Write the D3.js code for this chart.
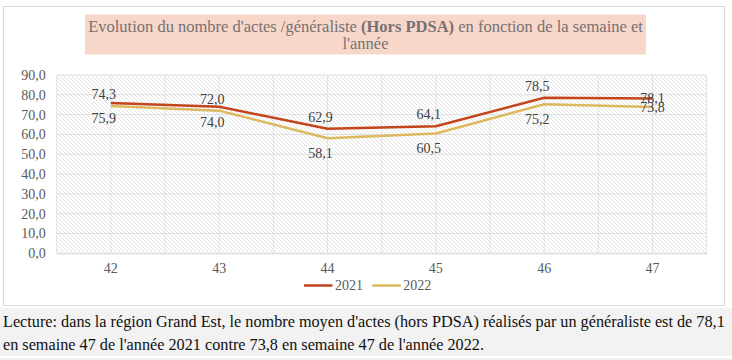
<!DOCTYPE html>
<html><head><meta charset="utf-8">
<script src="https://cdn.jsdelivr.net/npm/d3@7"></script>
<style>
html,body{margin:0;padding:0;background:#fff;}
svg{display:block;}
svg text{font-family:"Liberation Serif","Tinos","Times New Roman",serif;}
</style></head>
<body>
<svg id="chart" width="732" height="360"></svg>
<script>
const weeks = ["42","43","44","45","46","47"];
const seriesNames = ["2021","2022"];
const values2021 = [75.9, 74.0, 62.9, 64.1, 78.5, 78.1];
const values2022 = [74.3, 72.0, 58.1, 60.5, 75.2, 73.8];
const yTicks = [0,10,20,30,40,50,60,70,80,90];
const titleLine1 = ["Evolution du nombre d'actes /généraliste ", "(Hors PDSA)", " en fonction de la semaine et"];
const titleLine2 = "l'année";
const captionLines = [
  "Lecture: dans la région Grand Est, le nombre moyen d'actes (hors PDSA) réalisés par un généraliste est de 78,1",
  "en semaine 47 de l'année 2021 contre 73,8 en semaine 47 de l'année 2022."
];
// label placement (style): above / below / center
const place2021 = ["below","below","above","above","above","center"];
const place2022 = ["above","above","below","below","below","center"];

const colors = {"2021":"#C4441C","2022":"#DDB85E"};
const fmt = v => d3.format(".1f")(v).replace(".", ",");

(function(){
const svg = d3.select("#chart");

// caption band
svg.append("rect").attr("x",0).attr("y",308).attr("width",732).attr("height",48).attr("fill","#f2f2f2");
svg.append("rect").attr("x",0).attr("y",358).attr("width",732).attr("height",2).attr("fill","#f2f2f2");

// chart container
svg.append("rect").attr("x",3.5).attr("y",6.5).attr("width",721).attr("height",299)
  .attr("fill","#fff").attr("stroke","#d9d9d9").attr("stroke-width",1);

// title box
svg.append("rect").attr("x",85).attr("y",14.5).attr("width",561).attr("height",40).attr("fill","#F8D7CB");
const t1 = svg.append("text").attr("x",365.5).attr("y",31.5).attr("text-anchor","middle")
  .attr("font-size",15.5).attr("fill","#767171");
titleLine1.forEach((s,i)=>t1.append("tspan").text(s).attr("font-weight", i===1?"bold":null));
const t2 = svg.append("text").attr("x",365.5).attr("y",48.5).attr("text-anchor","middle")
  .attr("font-size",15.5).attr("fill","#767171").text(titleLine2);
const tw = t1.node().getComputedTextLength();
const tfs = 15.5*555/tw;
t1.attr("font-size",tfs); t2.attr("font-size",tfs);

// scales
const pL = 56.7, pR = 706.7, pT = 75, pB = 253.3;
const x = d3.scaleBand().domain(weeks).range([pL,pR]);
const y = d3.scaleLinear().domain([0,90]).range([pB,pT]);

// hatch pattern
const defs = svg.append("defs");
const pat = defs.append("pattern").attr("id","hatch").attr("patternUnits","userSpaceOnUse")
  .attr("width",4).attr("height",4);
pat.append("rect").attr("width",4).attr("height",4).attr("fill","#fff");
pat.append("path").attr("d","M-1,-1 L5,5 M3,-1 L5,1 M-1,3 L1,5")
  .attr("stroke","#dcdcdc").attr("stroke-width",0.8);
svg.append("rect").attr("x",pL).attr("y",pT).attr("width",pR-pL).attr("height",pB-pT)
  .attr("fill","url(#hatch)");

// gridlines
const grid = svg.append("g");
grid.selectAll("line.h").data(yTicks).join("line")
  .attr("x1",pL).attr("x2",pR).attr("y1",d=>y(d)).attr("y2",d=>y(d))
  .attr("stroke","#dedede").attr("stroke-width",1);
const vPos = [];
weeks.forEach(w=>{ vPos.push(x(w)); vPos.push(x(w)+x.bandwidth()/2); });
vPos.push(pR);
grid.selectAll("line.v").data(vPos).join("line")
  .attr("x1",d=>d).attr("x2",d=>d).attr("y1",pT).attr("y2",pB)
  .attr("stroke","#e2e2e2").attr("stroke-width",1);

// y axis
const yAxis = d3.axisLeft(y).tickValues(yTicks).tickFormat(fmt).tickSize(0).tickPadding(11);
const ya = svg.append("g").attr("transform",`translate(${pL},0)`).call(yAxis);
ya.select(".domain").remove();
ya.attr("font-family",null);
ya.selectAll("text").attr("font-size",14).attr("fill","#595959");

// x axis
const xAxis = d3.axisBottom(x).tickSize(0).tickPadding(10);
const xa = svg.append("g").attr("transform",`translate(0,${pB})`).call(xAxis);
xa.select(".domain").attr("stroke","#d9d9d9");
xa.attr("font-family",null);
xa.selectAll("text").attr("font-size",14).attr("fill","#595959");

// lines
const cx = w => x(w) + x.bandwidth()/2;
const line = d3.line().x(d=>cx(d.w)).y(d=>y(d.v));
const series = [
  {name:"2021", vals:values2021, place:place2021},
  {name:"2022", vals:values2022, place:place2022}
];
series.slice().reverse().forEach(s=>{
  const pts = weeks.map((w,i)=>({w, v:s.vals[i]}));
  svg.append("path").datum(pts).attr("d",line).attr("fill","none")
    .attr("stroke",colors[s.name]).attr("stroke-width",2.5).attr("stroke-linejoin","round");
});

// data labels
series.forEach(s=>{
  svg.append("g").selectAll("text").data(weeks.map((w,i)=>({w, v:s.vals[i], p:s.place[i]}))).join("text")
    .attr("x",d=> cx(d.w) + (d.p==="center"?0:-7))
    .attr("y",d=> y(d.v) + (d.p==="above"? -12 : d.p==="below"? 15 : 0))
    .attr("dy","0.35em")
    .attr("text-anchor","middle").attr("font-size",14).attr("fill","#404040")
    .text(d=>fmt(d.v));
});

// legend
const lg = svg.append("g");
const legX = [304, 372.3];
seriesNames.forEach((n,i)=>{
  lg.append("line").attr("x1",legX[i]).attr("x2",legX[i]+28.5).attr("y1",285.5).attr("y2",285.5)
    .attr("stroke",colors[n]).attr("stroke-width",2.5);
  lg.append("text").attr("x",legX[i]+31).attr("y",285.5).attr("dy","0.35em")
    .attr("font-size",14).attr("fill","#595959").text(n);
});

// caption
const capTexts = captionLines.map((c,i)=> svg.append("text").attr("x",3).attr("y",327 + i*22.5)
    .attr("font-size",16).attr("fill","#111").text(c));
const w0 = capTexts[0].node().getComputedTextLength();
const fs = 16*722.5/w0;
capTexts.forEach(t=>t.attr("font-size",fs));
})();
</script>
</body></html>
